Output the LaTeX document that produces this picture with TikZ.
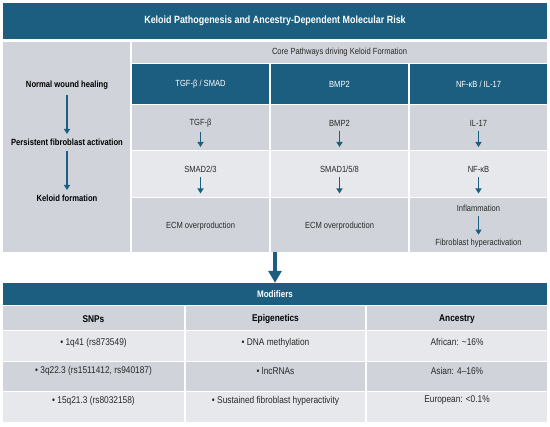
\documentclass[tikz,border=0pt]{standalone}
\usepackage{fontspec}
\setmainfont{Liberation Sans}[FakeStretch=0.85]
\usetikzlibrary{arrows.meta}
\definecolor{teal}{RGB}{27,94,128}
\definecolor{cellgrey}{RGB}{208,212,218}
\definecolor{celllight}{RGB}{230,232,235}
\definecolor{txt}{RGB}{40,40,40}
\tikzset{
  tealbar/.style={fill=teal, text=white, inner sep=0pt},
  hdrtxt/.style={text=white, font=\fontsize{8.9}{10}\selectfont, inner sep=0pt},
  bodytxt/.style={text=txt, font=\fontsize{8.9}{10}\selectfont, inner xsep=0pt, inner ysep=4pt},
  lefttxt/.style={text=black, font=\bfseries\fontsize{9}{10}\selectfont, inner xsep=0pt, inner ysep=5pt},
  bottxt/.style={text=txt, font=\fontsize{9.8}{11}\selectfont, inner sep=0pt},
  bothdr/.style={text=black, font=\bfseries\fontsize{9.8}{11}\selectfont, inner sep=0pt},
  arr/.style={draw=teal, line width=1.8pt, -{Triangle[width=6pt,length=5pt]}},
  bigarr/.style={draw=teal, line width=4pt, -{Triangle[width=13pt,length=12pt]}}
}
\begin{document}
\begin{tikzpicture}[x=1pt,y=-1pt]
\useasboundingbox (0,0) rectangle (550,427);
\fill[white] (0,0) rectangle (550,427);
% title
\node[tealbar, minimum width=544pt, minimum height=36pt, font=\bfseries\fontsize{10.5}{12}\selectfont] (title) at (275,21) {Keloid Pathogenesis and Ancestry-Dependent Molecular Risk};
% upper grey block
\fill[cellgrey] (3,42) rectangle (130,252);
\fill[cellgrey] (132,42) rectangle (547,63.3);
\node[text=txt, font=\fontsize{8.9}{10}\selectfont, inner sep=0pt] (core) at (339.5,52.5) {Core Pathways driving Keloid Formation};
% dark headers
\foreach \xa/\xb in {132/269.3, 271/408.3, 410/547}{
  \fill[teal] (\xa,64.3) rectangle (\xb,104);
  \fill[cellgrey] (\xa,105.3) rectangle (\xb,150);
  \fill[celllight] (\xa,151.3) rectangle (\xb,197);
  \fill[cellgrey] (\xa,198.3) rectangle (\xb,252);
}
\node[hdrtxt] (h1) at (200.5,84.5) {TGF-β / SMAD};
\node[hdrtxt] (h2) at (339.5,84.5) {BMP2};
\node[hdrtxt] (h3) at (478.5,84.5) {NF-κB / IL-17};
% left flow
\node[lefttxt] (nwh) at (67,85.5) {Normal wound healing};
\node[lefttxt] (pfa) at (67,142.5) {Persistent fibroblast activation};
\node[lefttxt] (kf) at (67,198.5) {Keloid formation};
\draw[arr] (nwh) -- (pfa);
\draw[arr] (pfa) -- (kf);
% column 1
\node[bodytxt] (c1a) at (200.5,123.5) {TGF-β};
\coordinate (c1ae) at (200.5,147);
\draw[arr] (c1a) -- (c1ae);
\node[bodytxt] (c1b) at (200.5,169.5) {SMAD2/3};
\coordinate (c1be) at (200.5,193.5);
\draw[arr] (c1b) -- (c1be);
\node[bodytxt] (c1c) at (200.5,226) {ECM overproduction};
% column 2
\node[bodytxt] (c2a) at (339.5,123.5) {BMP2};
\coordinate (c2ae) at (339.5,147);
\draw[arr] (c2a) -- (c2ae);
\node[bodytxt] (c2b) at (339.5,169.5) {SMAD1/5/8};
\coordinate (c2be) at (339.5,193.5);
\draw[arr] (c2b) -- (c2be);
\node[bodytxt] (c2c) at (339.5,226) {ECM overproduction};
% column 3
\node[bodytxt] (c3a) at (478.5,123.5) {IL-17};
\coordinate (c3ae) at (478.5,147);
\draw[arr] (c3a) -- (c3ae);
\node[bodytxt] (c3b) at (478.5,169.5) {NF-κB};
\coordinate (c3be) at (478.5,193.5);
\draw[arr] (c3b) -- (c3be);
\node[bodytxt] (c3c) at (478.5,208.5) {Inflammation};
\node[bodytxt] (c3d) at (478.5,243) {Fibroblast hyperactivation};
\draw[arr] (c3c) -- (c3d);
% modifiers
\node[tealbar, minimum width=544pt, minimum height=22pt, font=\bfseries\fontsize{9.5}{11}\selectfont] (mod) at (275,294) {Modifiers};
\coordinate (bigs) at (275,252.5);
\draw[bigarr] (bigs) -- (mod.north);
% bottom table
\foreach \xa/\xb in {3/184.3, 186/365.3, 367/547}{
  \fill[cellgrey] (\xa,306.5) rectangle (\xb,330.3);
  \fill[celllight] (\xa,331.5) rectangle (\xb,361);
  \fill[cellgrey] (\xa,362.2) rectangle (\xb,391);
  \fill[celllight] (\xa,392.2) rectangle (\xb,422);
}
\node[bothdr] (hs) at (93.5,319) {SNPs};
\node[bothdr] (he) at (275.5,319) {Epigenetics};
\node[bothdr] (ha) at (457,319) {Ancestry};
\node[bottxt] (s1) at (93.5,342.5) {• 1q41 (rs873549)};
\node[bottxt] (s2) at (93.5,371) {• 3q22.3 (rs1511412, rs940187)};
\node[bottxt] (s3) at (93.5,400.5) {• 15q21.3 (rs8032158)};
\node[bottxt] (e1) at (275.5,342.5) {• DNA methylation};
\node[bottxt] (e2) at (275.5,371) {• lncRNAs};
\node[bottxt] (e3) at (275.5,400.5) {• Sustained fibroblast hyperactivity};
\node[bottxt] (a1) at (457,342.5) {African: \textasciitilde16\%};
\node[bottxt] (a2) at (457,371) {Asian: 4–16\%};
\node[bottxt] (a3) at (457,400.5) {European: <0.1\%};
\end{tikzpicture}
\end{document}
